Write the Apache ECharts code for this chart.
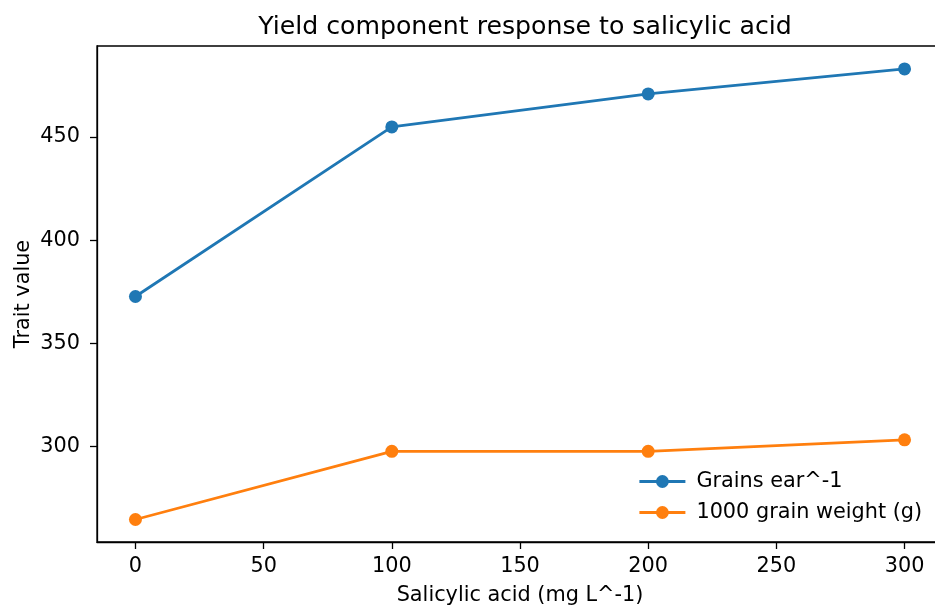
<!DOCTYPE html>
<html><head><meta charset="utf-8">
<script src="https://cdn.jsdelivr.net/npm/echarts@6/dist/echarts.min.js"></script>
<style>html,body{margin:0;padding:0;background:#fff}#c{width:935px;height:609px}</style>
</head><body><div id="c"></div>
<script>
const doses = [0, 100, 200, 300];
const grainsPerEar = [372.7, 454.8, 470.8, 482.9];
const grainWeight = [264.7, 297.7, 297.7, 303.3];
const xTicks = [0, 50, 100, 150, 200, 250, 300];
const yTicks = [300, 350, 400, 450];
const seriesNames = ['Grains ear^-1', '1000 grain weight (g)'];

const font = 'DejaVu Sans';
const fs = 20.8;
const chart = echarts.init(document.getElementById('c'), null, {renderer: 'canvas'});
const mk = (name, vals, color) => ({
  name, type: 'line',
  data: doses.map((d, i) => [d, vals[i]]),
  symbol: 'circle', symbolSize: 13,
  lineStyle: {color, width: 2.8},
  itemStyle: {color},
  emphasis: {disabled: true},
  animation: false
});
chart.setOption({
  animation: false,
  title: {
    text: 'Yield component response to salicylic acid',
    left: 520, top: 10, textAlign: 'center',
    textStyle: {fontFamily: font, fontSize: 25.2, fontWeight: 'normal', color: '#000'}
  },
  grid: {left: 97, top: 46, width: 846, height: 496, outerBoundsMode: 'none', containLabel: false,
         show: true, borderColor: '#000', borderWidth: 1.3, backgroundColor: 'transparent'},
  legend: {
    orient: 'vertical', left: 633, top: 466,
    itemWidth: 46, itemHeight: 16, itemGap: 10,
    lineStyle: {width: 2.8},
    textStyle: {fontFamily: font, fontSize: fs, lineHeight: 21, color: '#000', padding: [0, 0, 0, 6]},
    data: seriesNames
  },
  xAxis: {
    type: 'value', min: -15, max: 315,
    name: 'Salicylic acid (mg L^-1)', nameLocation: 'middle', nameGap: 43, nameMoveOverlap: false,
    nameTextStyle: {fontFamily: font, fontSize: fs, color: '#000'},
    axisLine: {onZero: false, lineStyle: {color: '#000', width: 1.3}},
    axisTick: {show: true, inside: false, length: 7, customValues: xTicks, lineStyle: {color: '#000', width: 1.3}},
    axisLabel: {customValues: xTicks, margin: 14, fontFamily: font, fontSize: fs, color: '#000'},
    splitLine: {show: false}
  },
  yAxis: {
    type: 'value', min: 253.8, max: 494.0,
    name: 'Trait value', nameLocation: 'middle', nameGap: 63, nameMoveOverlap: false,
    nameTextStyle: {fontFamily: font, fontSize: fs, color: '#000'},
    axisLine: {show: true, onZero: false, lineStyle: {color: '#000', width: 1.3}},
    axisTick: {show: true, inside: false, length: 7, customValues: yTicks, lineStyle: {color: '#000', width: 1.3}},
    axisLabel: {customValues: yTicks, margin: 17, fontFamily: font, fontSize: fs, color: '#000'},
    splitLine: {show: false}
  },
  series: [mk(seriesNames[0], grainsPerEar, '#1f77b4'), mk(seriesNames[1], grainWeight, '#ff7f0e')]
});
</script></body></html>
